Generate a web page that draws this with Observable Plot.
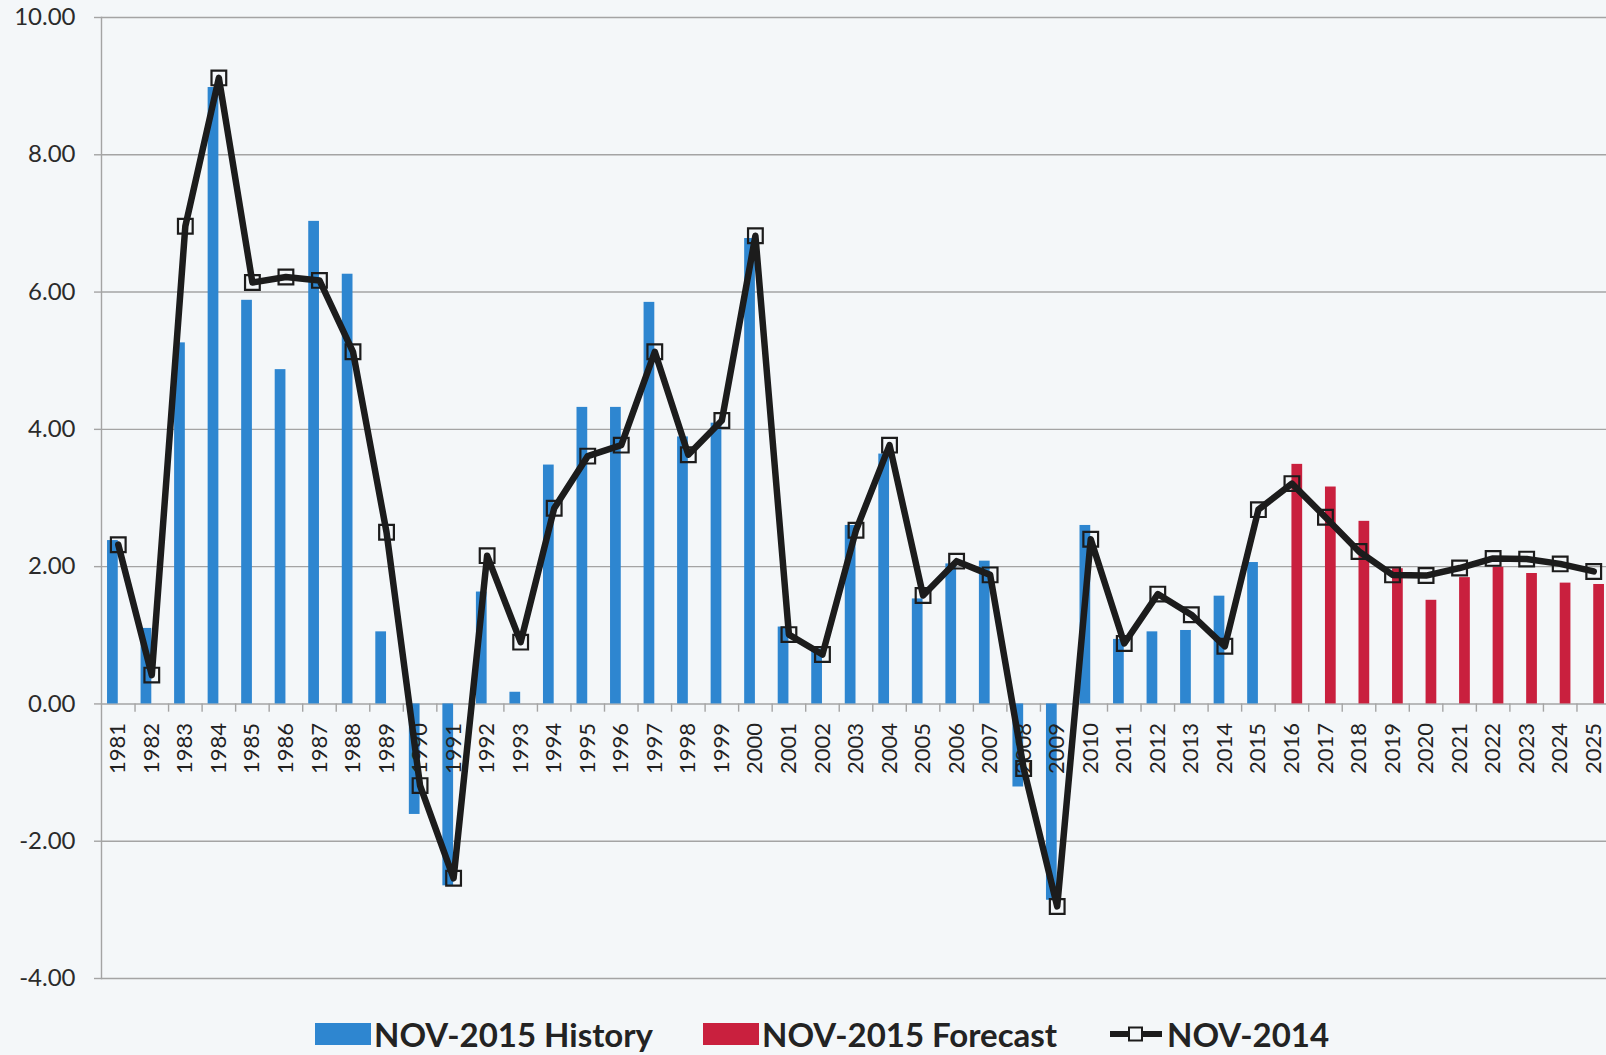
<!DOCTYPE html>
<html>
<head>
<meta charset="utf-8">
<script src="https://cdn.jsdelivr.net/npm/d3@7"></script>
<script src="https://cdn.jsdelivr.net/npm/@observablehq/plot@0.6"></script>
<style>
  html, body { margin: 0; padding: 0; background: #f4f7f9; }
  #chart { width: 1606px; height: 1000px; overflow: hidden; }
  #legend { position: relative; height: 55px; width: 1606px; overflow: hidden;
            font-family: Lato, "Open Sans", sans-serif; font-weight: 700; font-size: 33px; color: #232323; }
  .item { position: absolute; top: 14px; display: flex; align-items: center; white-space: nowrap; }
  .sw { display: inline-block; width: 56px; height: 22px; margin-right: 3px; }
</style>
</head>
<body>
<div id="chart"></div>
<div id="legend"></div>
<script>
// ---- data ----
const historyYears = [1981,1982,1983,1984,1985,1986,1987,1988,1989,1990,1991,1992,1993,1994,1995,1996,1997,1998,1999,2000,2001,2002,2003,2004,2005,2006,2007,2008,2009,2010,2011,2012,2013,2014,2015];
const historyValues = [2.38,1.10,5.26,8.98,5.88,4.87,7.03,6.26,1.05,-1.61,-2.65,1.63,0.17,3.48,4.32,4.32,5.85,3.89,4.09,6.78,1.12,0.80,2.60,3.64,1.53,2.04,2.08,-1.21,-2.86,2.60,0.94,1.05,1.07,1.57,2.06];

const forecastYears = [2016,2017,2018,2019,2020,2021,2022,2023,2024,2025];
const forecastValues = [3.49,3.16,2.66,1.97,1.51,1.84,1.99,1.90,1.76,1.74];

const nov2014Years = [1981,1982,1983,1984,1985,1986,1987,1988,1989,1990,1991,1992,1993,1994,1995,1996,1997,1998,1999,2000,2001,2002,2003,2004,2005,2006,2007,2008,2009,2010,2011,2012,2013,2014,2015,2016,2017,2018,2019,2020,2021,2022,2023,2024,2025];
const nov2014Values = [2.32,0.42,6.96,9.12,6.14,6.22,6.17,5.13,2.50,-1.19,-2.54,2.16,0.90,2.85,3.61,3.77,5.13,3.63,4.13,6.82,1.01,0.72,2.53,3.77,1.58,2.08,1.88,-0.94,-2.95,2.40,0.88,1.60,1.30,0.84,2.83,3.21,2.72,2.22,1.88,1.87,1.98,2.12,2.11,2.04,1.93];

const yTicks = [-4,-2,0,2,4,6,8,10];
const seriesNames = ["NOV-2015 History", "NOV-2015 Forecast", "NOV-2014"];
const colors = {history: "#2e86d0", forecast: "#c9203e", line: "#1c1c1c"};

// ---- tables ----
const history = historyYears.map((year, i) => ({year, value: historyValues[i]}));
const forecast = forecastYears.map((year, i) => ({year, value: forecastValues[i]}));
const nov2014 = nov2014Years.map((year, i) => ({year, value: nov2014Values[i]}));
const allYears = nov2014Years;
const boundaries = allYears.slice(0, -1).map(y => y + 0.5);

const chart = Plot.plot({
  width: 1606,
  height: 1000,
  marginTop: 17,
  marginBottom: 22,
  marginLeft: 101,
  marginRight: 0,
  style: {fontFamily: "Lato, 'Open Sans', sans-serif", background: "transparent", color: "#2b2b2b"},
  x: {type: "linear", domain: [allYears[0] - 0.5, allYears[allYears.length - 1] + 0.5], range: [101, 1610], axis: null},
  y: {domain: [-4, 10], axis: null},
  marks: [
    Plot.gridY(yTicks, {stroke: "#a4a4a4", strokeOpacity: 1, strokeWidth: 1.4}),
    Plot.frame({anchor: "left", stroke: "#a4a4a4", strokeWidth: 1.4}),
    Plot.axisY(yTicks, {label: null, tickFormat: d => d.toFixed(2), tickSize: 7, tickPadding: 19, fontSize: 24, fill: "#2b2b2b", stroke: "#a4a4a4", strokeWidth: 1.4}),
    Plot.ruleX(boundaries, {x: d => d, y1: 0, y2: -0.12, stroke: "#a4a4a4", strokeWidth: 1.4}),
    Plot.rectY(history, {x1: d => d.year - 0.32, x2: d => d.year, y: "value", fill: colors.history}),
    Plot.rectY(forecast, {x1: d => d.year, x2: d => d.year + 0.32, y: "value", fill: colors.forecast}),
    Plot.text(allYears, {x: d => d, y: 0, text: d => String(d), rotate: -90, textAnchor: "end", dy: 19, fontSize: 22, fill: "#222"}),
    Plot.line(nov2014, {x: "year", y: "value", stroke: colors.line, strokeWidth: 6.5, strokeLinejoin: "round"}),
    Plot.dot(nov2014, {x: "year", y: "value", symbol: "square", r: 8.3, stroke: colors.line, strokeWidth: 2.2, fill: "none"})
  ]
});
document.getElementById("chart").appendChild(chart);

// ---- legend ----
const legend = document.getElementById("legend");
const lefts = [315, 703, 1108];
seriesNames.forEach((name, i) => {
  const item = document.createElement("div");
  item.className = "item";
  item.style.left = lefts[i] + "px";
  let sw;
  if (i < 2) {
    sw = `<span class="sw" style="background:${i === 0 ? colors.history : colors.forecast}"></span>`;
  } else {
    sw = `<svg class="sw" width="56" height="22" viewBox="0 0 56 22"><line x1="2" y1="11" x2="54" y2="11" stroke="${colors.line}" stroke-width="6"/><rect x="21" y="4.5" width="13" height="13" fill="#f4f7f9" stroke="${colors.line}" stroke-width="2"/></svg>`;
  }
  item.innerHTML = sw + `<span>${name}</span>`;
  legend.appendChild(item);
});
</script>
</body>
</html>
